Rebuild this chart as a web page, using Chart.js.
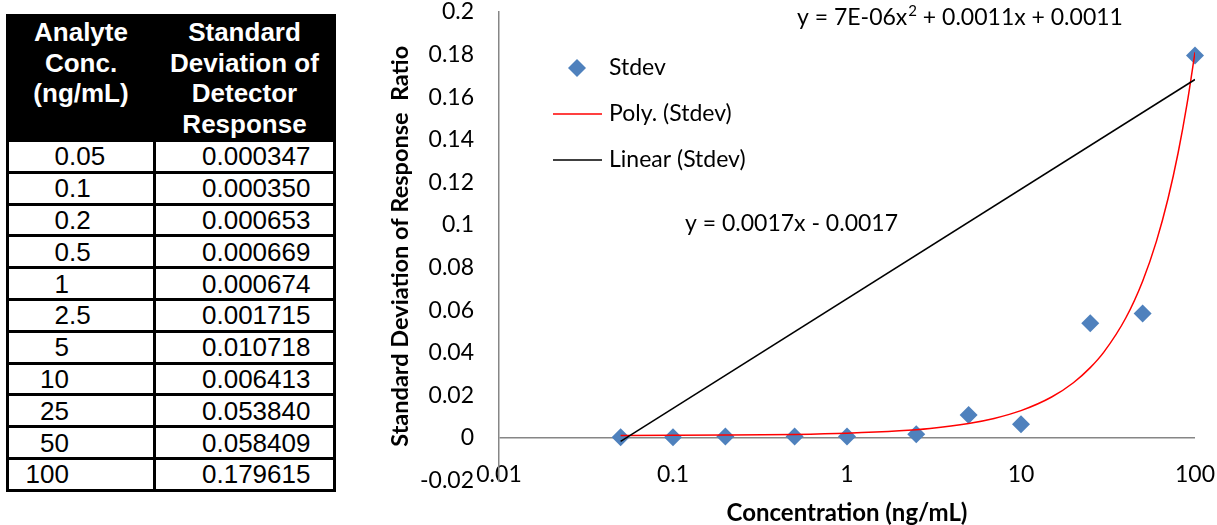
<!DOCTYPE html>
<html>
<head>
<meta charset="utf-8">
<script src="https://cdn.jsdelivr.net/npm/chart.js@4.4.1/dist/chart.umd.min.js"></script>
<style>
  body { margin: 0; width: 1217px; height: 525px; background: #fff; overflow: hidden; position: relative; }
  table.data {
    position: absolute; left: 6px; top: 14px;
    border-collapse: collapse;
    font-family: "Liberation Sans", Arial, sans-serif;
  }
  table.data th {
    background: #000; color: #fff;
    font-size: 26px; font-weight: bold; line-height: 30.5px;
    vertical-align: top; padding: 0; height: 122px;
    border: 3px solid #000;
  }
  table.data td {
    border: 3px solid #000; padding: 0;
    height: 28.8px; font-size: 26px; line-height: 26px;
    color: #000;
  }
  td.c1 { width: 144px; }
  td.c2 { width: 180px; padding-left: 46px !important; box-sizing: border-box; }
  span.int { display: inline-block; width: 60px; text-align: right; }
  #wrap { position: absolute; left: 360px; top: 0; width: 857px; height: 525px; }
</style>
</head>
<body>
<table class="data" id="tbl">
  <tr><th>Analyte<br>Conc.<br>(ng/mL)</th><th>Standard<br>Deviation of<br>Detector<br>Response</th></tr>
</table>
<div id="wrap"><canvas id="chart" width="857" height="525"></canvas></div>
<script>
// measured points
const conc = [0.05, 0.1, 0.2, 0.5, 1, 2.5, 5, 10, 25, 50, 100]
const stdev = [0.000347, 0.000350, 0.000653, 0.000669, 0.000674, 0.001715, 0.010718, 0.006413, 0.053840, 0.058409, 0.179615]

// poly trendline
const polyX = [0.05, 0.1, 0.2, 0.5, 1, 2, 3, 5, 7, 10, 15, 20, 25, 30, 40, 50, 60, 70, 80, 90, 100]
const polyY = [0.00116, 0.00121, 0.00132, 0.00165, 0.00221, 0.00333, 0.00446, 0.00678, 0.00914, 0.0128, 0.0192, 0.0259, 0.0330, 0.0404, 0.0563, 0.0736, 0.0923, 0.1124, 0.1339, 0.1568, 0.1811]

// linear trendline end points (drawn straight, as excel does on a log axis)
const linX = [0.05, 100]
const linY = [-0.0016, 0.1683]

const xTicks = [0.01, 0.1, 1, 10, 100]
const polyEq = ['y = 7E-06x', '2', ' + 0.0011x + 0.0011']  // middle part is the superscript
const linEq = 'y = 0.0017x - 0.0017'

// table
const tbl = document.getElementById('tbl')
for (let i = 0; i < conc.length; i ++) {
  const tr = document.createElement('tr')
  const s = String(conc[i])
  const dot = s.indexOf('.')
  const ip = dot < 0 ? s : s.slice(0, dot)
  const fp = dot < 0 ? '' : s.slice(dot)
  tr.innerHTML = `<td class="c1"><span class="int">${ip}</span>${fp}</td><td class="c2">${stdev[i].toFixed(6)}</td>`
  tbl.appendChild(tr)
}

const pts = (xs, ys) => xs.map((x, i) => ({ x: x, y: ys[i] }))

const FONT = 'Lato, "Open Sans", sans-serif'
Chart.defaults.color = '#000'
Chart.defaults.font.family = FONT

const overlay = {
  id: 'overlay',
  afterDraw(chart) {
    const ctx = chart.ctx
    ctx.save()
    ctx.font = '23px ' + FONT
    ctx.fillStyle = '#000'
    ctx.textBaseline = 'middle'
    ctx.textAlign = 'left'
    chart.data.datasets.forEach((ds, i) => {
      const y = 68 + i * 46
      if (ds.showLine) {
        ctx.strokeStyle = ds.borderColor
        ctx.lineWidth = 1.5
        ctx.beginPath()
        ctx.moveTo(193, y)
        ctx.lineTo(242, y)
        ctx.stroke()
      } else {
        ctx.fillStyle = ds.backgroundColor
        Chart.helpers.drawPoint(ctx, { pointStyle: 'rectRot', radius: ds.pointRadius, borderWidth: 0 }, 217, y)
        ctx.fillStyle = '#000'
      }
      ctx.fillText(ds.label, 249, y)
    })

    // poly equation with a raised 2
    let x = 437
    ctx.fillText(polyEq[0], x, 18)
    x += ctx.measureText(polyEq[0]).width + 1
    ctx.font = '15px ' + FONT
    ctx.fillText(polyEq[1], x, 11)
    x += ctx.measureText(polyEq[1]).width
    ctx.font = '23px ' + FONT
    ctx.fillText(polyEq[2], x, 18)

    ctx.fillText(linEq, 325, 224)
    ctx.restore()
  }
}

new Chart(document.getElementById('chart'), {
  type: 'scatter',
  data: {
    datasets: [
      {
        label: 'Stdev',
        data: pts(conc, stdev),
        backgroundColor: '#4F81BD',
        borderColor: '#4F81BD',
        pointStyle: 'rectRot',
        pointRadius: 9,
        pointBorderWidth: 0,
        clip: false,
        order: 2
      },
      {
        label: 'Poly. (Stdev)',
        data: pts(polyX, polyY),
        showLine: true,
        borderColor: '#FF0000',
        borderWidth: 1.5,
        pointRadius: 0,
        cubicInterpolationMode: 'monotone',
        order: 1
      },
      {
        label: 'Linear (Stdev)',
        data: pts(linX, linY),
        showLine: true,
        borderColor: '#000000',
        borderWidth: 1.5,
        pointRadius: 0,
        order: 0
      }
    ]
  },
  options: {
    responsive: false,
    devicePixelRatio: 1,
    animation: false,
    layout: { padding: { left: 0, right: 22, top: 12, bottom: 0 } },
    plugins: { legend: { display: false }, tooltip: { enabled: false } },
    scales: {
      x: {
        type: 'logarithmic',
        min: 0.01, max: 100,
        afterBuildTicks: s => { s.ticks = xTicks.map(v => ({ value: v })) },
        afterFit: s => { s.height = 44.5 },
        grid: { display: false, drawTicks: false },
        border: { display: false },
        // labels sit just above the bottom edge, like the excel "next to axis" labels
        ticks: { mirror: true, autoSkip: false, maxRotation: 0, padding: -6, font: { size: 23, lineHeight: 1 }, callback: v => String(v) },
        title: { display: true, text: 'Concentration (ng/mL)', font: { size: 24, weight: 'bold', lineHeight: 1 }, padding: 0 }
      },
      y: {
        min: -0.02, max: 0.2,
        afterFit: s => { s.width = 139 },
        grid: {
          drawTicks: true,
          tickLength: 25,
          tickColor: 'rgba(0,0,0,0)',
          lineWidth: 1.5,
          color: c => c.tick && Math.abs(c.tick.value) < 1e-9 ? '#868686' : 'rgba(0,0,0,0)'
        },
        border: { display: true, color: '#868686', width: 1.5 },
        ticks: { stepSize: 0.02, padding: 0, font: { size: 23, lineHeight: 1 }, callback: v => String(Number(v.toFixed(2))) },
        title: { display: true, text: 'Standard Deviation of Response  Ratio', font: { size: 23.5, weight: 'bold', lineHeight: 1.2 }, padding: { top: 26, bottom: 0 } }
      }
    }
  },
  plugins: [overlay]
})
</script>
</body>
</html>
